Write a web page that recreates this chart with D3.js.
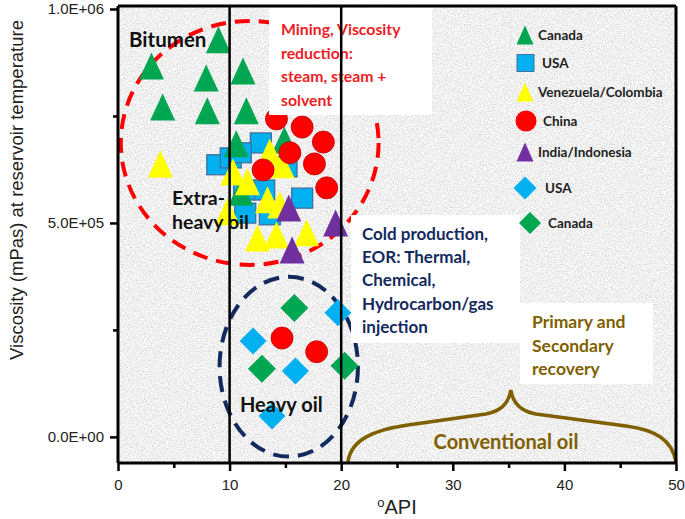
<!DOCTYPE html>
<html><head><meta charset="utf-8">
<script src="https://cdn.jsdelivr.net/npm/d3@7"></script>
<style>body{margin:0;background:#fff}svg{display:block}</style>
</head><body>
<svg id="chart" width="685" height="519"></svg>
<script>
// ---------- data ----------
const xTicks = [0, 10, 20, 30, 40, 50];
const xMinorTicks = [5, 15, 25, 35, 45];
const yTicks = [0, 500000, 1000000];
const yTickLabels = ["0.0E+00", "5.0E+05", "1.0E+06"];
const yMinorTicks = [250000, 750000];
const boundaries = [10, 20];

const canadaTri = [[3.0,867000],[4.0,771000],[9.0,928000],[7.9,839000],[8.0,762000],[11.2,855000],[11.5,762000],[10.6,685000],[14.9,694000],[11.0,572000]];
const venezuelaTri = [[3.8,638000],[13.6,666000],[14.7,636000],[10.3,619000],[11.6,596000],[13.4,554000],[14.5,542000],[9.8,526000],[12.5,465000],[14.2,472000],[16.9,477000]];
const usaSquare = [[12.8,687000],[8.9,636000],[10.1,652000],[11.0,664000],[15.1,631000],[13.1,577000],[11.3,577000],[16.5,558000],[13.6,519000],[11.4,523000]];
const chinaCircle = [[14.2,743000],[16.5,724000],[18.4,689000],[15.4,664000],[13.0,624000],[17.6,638000],[18.7,582000],[14.7,231000],[17.8,199000]];
const indiaTri = [[15.3,535000],[19.5,500000],[15.6,437000]];
const usaDiamond = [[12.1,224000],[15.9,154000],[19.7,290000],[13.8,49000]];
const canadaDiamond = [[15.8,301000],[12.9,159000],[20.3,166000]];

const legendItems = ["Canada","USA","Venezuela/Colombia","China","India/Indonesia","USA","Canada"];

// ---------- setup ----------
const svg = d3.select("#chart");
const x = d3.scaleLinear().domain([0, 50]).range([118, 676]);
const y = d3.scaleLinear().domain([-61000, 1007000]).range([463, 6]);

const C = {green:"#00a651", blue:"#00b0f0", yellow:"#ffff00", red:"#ff0000", purple:"#7030a0",
           navy:"#132a5e", brown:"#7f5f00", redText:"#ee1c25"};

const defs = svg.append("defs");
const f = defs.append("filter").attr("id","granite").attr("x",0).attr("y",0).attr("width","100%").attr("height","100%")
  .attr("color-interpolation-filters","sRGB");
f.append("feTurbulence").attr("type","fractalNoise").attr("baseFrequency","0.7").attr("numOctaves",4).attr("seed",7);
f.append("feColorMatrix").attr("type","matrix")
 .attr("values","0.3 0 0 0 0.79  0.3 0 0 0 0.79  0.3 0 0 0 0.79  0 0 0 0 1");
const clip = defs.append("clipPath").attr("id","plotclip");
clip.append("rect").attr("x",x(0)).attr("y",y.range()[1]).attr("width",x(50)-x(0)).attr("height",y.range()[0]-y.range()[1]);

// background
svg.append("rect").attr("x",x(0)).attr("y",y.range()[1]).attr("width",x(50)-x(0))
  .attr("height",y.range()[0]-y.range()[1]).attr("fill","#e4e4e4").attr("filter","url(#granite)");

const plot = svg.append("g").attr("clip-path","url(#plotclip)");

// dashed ellipses
const ell = (cx, cy, dx, dy) => ({cx:x(cx), cy:y(cy), rx:x(cx+dx)-x(cx), ry:y(cy)-y(cy+dy)});
const e1 = ell(11.8, 687000, 11.55, 285000);
plot.append("ellipse").attr("cx",e1.cx).attr("cy",e1.cy).attr("rx",e1.rx).attr("ry",e1.ry)
  .attr("fill","none").attr("stroke",C.red).attr("stroke-width",4).attr("stroke-dasharray","15 9");
const e2 = ell(15.3, 164000, 6.2, 210000);
plot.append("ellipse").attr("cx",e2.cx).attr("cy",e2.cy).attr("rx",e2.rx).attr("ry",e2.ry)
  .attr("fill","none").attr("stroke",C.navy).attr("stroke-width",4).attr("stroke-dasharray","16 9");

// markers
const triPath = (w,h) => `M0,${-h/2}L${w/2},${h/2}L${-w/2},${h/2}Z`;
const diaPath = r => `M0,${-r}L${r},0L0,${r}L${-r},0Z`;
function drawPaths(data, d, fill, stroke){
  plot.append("g").selectAll("path").data(data).join("path")
    .attr("transform", p => `translate(${x(p[0])},${y(p[1])})`)
    .attr("d", d).attr("fill", fill).attr("stroke", stroke||"none").attr("stroke-width", stroke?1.2:0);
}
plot.append("g").selectAll("rect").data(usaSquare).join("rect")
  .attr("x", p => x(p[0]) - 10.5).attr("y", p => y(p[1]) - 10)
  .attr("width", 21).attr("height", 20).attr("fill", C.blue).attr("stroke","#41719c").attr("stroke-width",1.3);
drawPaths(canadaTri, triPath(25,27), C.green);
drawPaths(venezuelaTri, triPath(25,27), C.yellow);
plot.append("g").selectAll("circle").data(chinaCircle).join("circle")
  .attr("cx", p => x(p[0])).attr("cy", p => y(p[1])).attr("r", 11)
  .attr("fill", C.red).attr("stroke","#c00000").attr("stroke-width",0.8);
drawPaths(indiaTri, triPath(25,27), C.purple);
drawPaths(usaDiamond, diaPath(13.5), C.blue);
drawPaths(canadaDiamond, diaPath(14), C.green);

// boundary lines
plot.append("g").selectAll("line").data(boundaries).join("line")
  .attr("x1", d => x(d)).attr("x2", d => x(d)).attr("y1", y.range()[1]).attr("y2", y.range()[0])
  .attr("stroke","#000").attr("stroke-width",2.5);

// annotation boxes
function box(x0, y0, w, h){ svg.append("rect").attr("x",x0).attr("y",y0).attr("width",w).attr("height",h).attr("fill","#fff"); }
function lines(arr, x0, y0, dy, color, size, anchor){
  const t = svg.append("text").attr("font-family","Lato, 'Open Sans', sans-serif").attr("font-weight","bold")
   .attr("font-size",size).attr("fill",color).attr("text-anchor",anchor||"start");
  arr.forEach((s,i)=> t.append("tspan").attr("x",x0).attr("y",y0+i*dy).text(s));
}
box(269, 8, 163, 107);
lines(["Mining, Viscosity","reduction:","steam, steam +","solvent"], 281, 35, 23.5, C.redText, 15.8);
svg.append("line").attr("x1",x(20)).attr("x2",x(20)).attr("y1",y.range()[1]).attr("y2",115).attr("stroke","#000").attr("stroke-width",2.5);

box(351, 215, 169, 128);
lines(["Cold production,","EOR: Thermal,","Chemical,","Hydrocarbon/gas","injection"], 362, 240, 23.2, C.navy, 17);

box(520, 303, 133, 81);
lines(["Primary and","Secondary","recovery"], 532, 328, 23.5, C.brown, 17.5);

// region labels
lines(["Bitumen"], 129, 47, 0, "#111", 20.5);
lines(["Extra-","heavy oil"], 172, 205, 24, "#111", 19.5);
lines(["Heavy oil"], 240, 412, 0, "#111", 20);
lines(["Conventional oil"], 506, 449, 0, C.brown, 20, "middle");

// curly brace
const bx0 = x(20.6), bx1 = x(50), bm = x(35.2), by0 = y.range()[0]-1, byTop = 390;
const brace = `M${bx0},${by0} C${bx0+3},${by0-22} ${bx0+25},${by0-32} ${bx0+60},${by0-37}`+
  ` L${bm-25},${by0-48} Q${bm-3},${by0-52} ${bm},${byTop}`+
  ` Q${bm+3},${by0-52} ${bm+25},${by0-48} L${bx1-50},${by0-36} C${bx1-20},${by0-32} ${bx1-4},${by0-22} ${bx1},${by0}`;
svg.append("path").attr("d",brace).attr("fill","none").attr("stroke",C.brown).attr("stroke-width",3.5);

// legend
const lg = svg.append("g");
const lgY = [35, 63, 92, 121, 152, 188, 223];
const lgX = [538, 542, 538, 543, 538, 545, 548];
lg.append("path").attr("transform",`translate(525,${lgY[0]})`).attr("d",triPath(17,19)).attr("fill",C.green);
lg.append("rect").attr("x",517).attr("y",lgY[1]-8.5).attr("width",17).attr("height",17).attr("fill",C.blue).attr("stroke","#41719c").attr("stroke-width",1);
lg.append("path").attr("transform",`translate(525,${lgY[2]})`).attr("d",triPath(17,19)).attr("fill",C.yellow);
lg.append("circle").attr("cx",526).attr("cy",lgY[3]).attr("r",10.5).attr("fill",C.red);
lg.append("path").attr("transform",`translate(525,${lgY[4]})`).attr("d",triPath(17,19)).attr("fill",C.purple);
lg.append("path").attr("transform",`translate(525,${lgY[5]})`).attr("d",diaPath(11.5)).attr("fill",C.blue);
lg.append("path").attr("transform",`translate(530,${lgY[6]})`).attr("d",diaPath(11)).attr("fill",C.green);
lg.selectAll("text").data(legendItems).join("text")
  .attr("x",(d,i)=>lgX[i]).attr("y",(d,i)=>lgY[i]+4.5).attr("font-family","Lato, sans-serif")
  .attr("font-weight","bold").attr("font-size",13.5).attr("fill","#222").text(d=>d);

// frame top/right
svg.append("line").attr("x1",x(0)).attr("x2",x(50)).attr("y1",y.range()[1]).attr("y2",y.range()[1]).attr("stroke","#000").attr("stroke-width",3);
svg.append("line").attr("x1",x(50)).attr("x2",x(50)).attr("y1",y.range()[1]).attr("y2",y.range()[0]).attr("stroke","#000").attr("stroke-width",3);

// axes
const font = "'Liberation Sans', Arial, sans-serif";
const xAxis = svg.append("g").attr("transform",`translate(0,${y.range()[0]})`)
  .call(d3.axisBottom(x).tickValues(xTicks).tickSize(8).tickPadding(8).tickFormat(d3.format("d")));
svg.append("g").attr("transform",`translate(0,${y.range()[0]})`)
  .call(d3.axisBottom(x).tickValues(xMinorTicks).tickSize(5).tickFormat(""))
  .call(g=>g.select(".domain").remove());
const yAxis = svg.append("g").attr("transform",`translate(${x(0)},0)`)
  .call(d3.axisLeft(y).tickValues(yTicks).tickSize(8).tickPadding(6).tickFormat((d,i)=>yTickLabels[i]));
svg.append("g").attr("transform",`translate(${x(0)},0)`)
  .call(d3.axisLeft(y).tickValues(yMinorTicks).tickSize(5).tickFormat(""))
  .call(g=>g.select(".domain").remove());
svg.selectAll(".domain").attr("stroke","#000").attr("stroke-width",3);
svg.selectAll(".tick line").attr("stroke","#000").attr("stroke-width",2.5);
svg.selectAll(".tick text").attr("font-family",font).attr("font-size",15).attr("fill","#222");
yAxis.select(".domain").attr("d",`M0,${y.range()[1]}V${y.range()[0]}`);
xAxis.select(".domain").attr("d",`M${x(0)},0H${x(50)}`);

// axis titles
svg.append("text").attr("transform","translate(23,190) rotate(-90)").attr("text-anchor","middle")
  .attr("font-family",font).attr("font-size",18.5).attr("fill","#222")
  .text("Viscosity (mPas) at reservoir temperature");
const xt = svg.append("text").attr("x",397).attr("y",514).attr("text-anchor","middle")
  .attr("font-family",font).attr("font-size",20).attr("fill","#222");
xt.append("tspan").attr("font-size",13).attr("dy",-7).text("o");
xt.append("tspan").attr("dy",7).text("API");
</script>
</body></html>
